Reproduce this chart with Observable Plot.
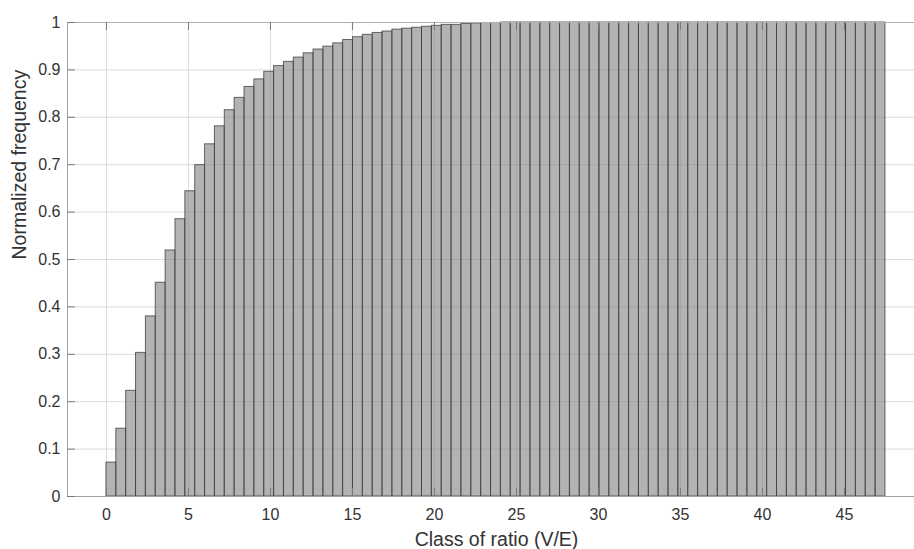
<!DOCTYPE html>
<html>
<head>
<meta charset="utf-8">
<script src="https://cdn.jsdelivr.net/npm/d3@7"></script>
<script src="https://cdn.jsdelivr.net/npm/@observablehq/plot@0.6"></script>
<style>
  html, body { margin: 0; padding: 0; background: #fff; overflow: hidden; }
  #chart svg { display: block; }
</style>
</head>
<body>
<div id="chart"></div>
<script>
// Histogram definition: 79 classes spanning 0 .. 47.5
const binStart = 0;
const binEnd = 47.5;
const binCount = 79;

// Cumulative normalized frequency for each class
const values = [
  0.0715, 0.143, 0.223, 0.303, 0.380, 0.451, 0.519, 0.585, 0.644, 0.699,
  0.743, 0.781, 0.815, 0.841, 0.864, 0.880, 0.896, 0.908, 0.917, 0.926,
  0.935, 0.943, 0.949, 0.956, 0.963, 0.969, 0.974, 0.978, 0.981, 0.985,
  0.987, 0.989, 0.991, 0.993, 0.995, 0.995, 0.997, 0.998, 0.999, 0.999,
  1.000, 1.000, 1.000, 1.000, 1.000, 1.000, 1.000, 1.000, 1.000, 1.000,
  1.000, 1.000, 1.000, 1.000, 1.000, 1.000, 1.000, 1.000, 1.000, 1.000,
  1.000, 1.000, 1.000, 1.000, 1.000, 1.000, 1.000, 1.000, 1.000, 1.000,
  1.000, 1.000, 1.000, 1.000, 1.000, 1.000, 1.000, 1.000, 1.000
];

const xTicks = [0, 5, 10, 15, 20, 25, 30, 35, 40, 45];
const yTicks = [0, 0.1, 0.2, 0.3, 0.4, 0.5, 0.6, 0.7, 0.8, 0.9, 1];
const yTickLabels = ["0", "0.1", "0.2", "0.3", "0.4", "0.5", "0.6", "0.7", "0.8", "0.9", "1"];

const xLabel = "Class of ratio (V/E)";
const yLabel = "Normalized frequency";

const step = (binEnd - binStart) / binCount;
const bins = values.map((v, i) => ({
  x1: binStart + i * step,
  x2: binStart + (i + 1) * step,
  v
}));

const W = 914, H = 549;
const mL = 67, mR = 0, mT = 22, mB = 53;
const innerW = W - mL - mR, innerH = H - mT - mB;
const tickLen = 8;

const chart = Plot.plot({
  width: W,
  height: H,
  marginLeft: mL,
  marginRight: mR,
  marginTop: mT,
  marginBottom: mB,
  style: { fontFamily: "'Liberation Sans', Arial, Helvetica, sans-serif", background: "#fff", overflow: "visible" },
  x: { domain: [-2.375, 49.27] },
  y: { domain: [0, 1] },
  marks: [
    // grid
    Plot.gridX(xTicks, { stroke: "#dcdcdc", strokeOpacity: 1 }),
    Plot.gridY(yTicks, { stroke: "#dcdcdc", strokeOpacity: 1 }),
    // bars
    Plot.rectY(bins, {
      x1: "x1", x2: "x2", y: "v",
      fill: "#808080", fillOpacity: 0.6,
      stroke: "#3a3a3a", strokeOpacity: 0.75, strokeWidth: 1
    }),
    // box
    Plot.ruleY([0], { stroke: "#a0a0a0" }),
    Plot.ruleY([1], { stroke: "#b0b0b0" }),
    Plot.ruleX([-2.375], { stroke: "#a0a0a0" }),
    // inward ticks
    Plot.tickX(xTicks, { x: d => d, stroke: "#7a7a7a", insetTop: innerH - tickLen }),
    Plot.tickX(xTicks, { x: d => d, stroke: "#7a7a7a", insetBottom: innerH - tickLen }),
    Plot.tickY(yTicks, { y: d => d, stroke: "#7a7a7a", insetRight: innerW - tickLen }),
    // tick labels
    Plot.axisX(xTicks, {
      tickSize: 0, tickPadding: 12, fontSize: 16, fill: "#333", label: null,
      tickFormat: d => String(d)
    }),
    Plot.axisY(yTicks, {
      tickSize: 0, tickPadding: 7, fontSize: 16, fill: "#333", label: null,
      tickFormat: (d, i) => yTickLabels[i]
    }),
    // axis titles
    Plot.text([xLabel], {
      frameAnchor: "bottom", dx: 5.5, dy: 49, lineAnchor: "bottom",
      fontSize: 19.5, fill: "#333"
    }),
    Plot.text([yLabel], {
      frameAnchor: "left", dx: -48, rotate: -90, lineAnchor: "middle",
      fontSize: 19.5, fill: "#333"
    })
  ]
});

document.getElementById("chart").appendChild(chart);
</script>
</body>
</html>
